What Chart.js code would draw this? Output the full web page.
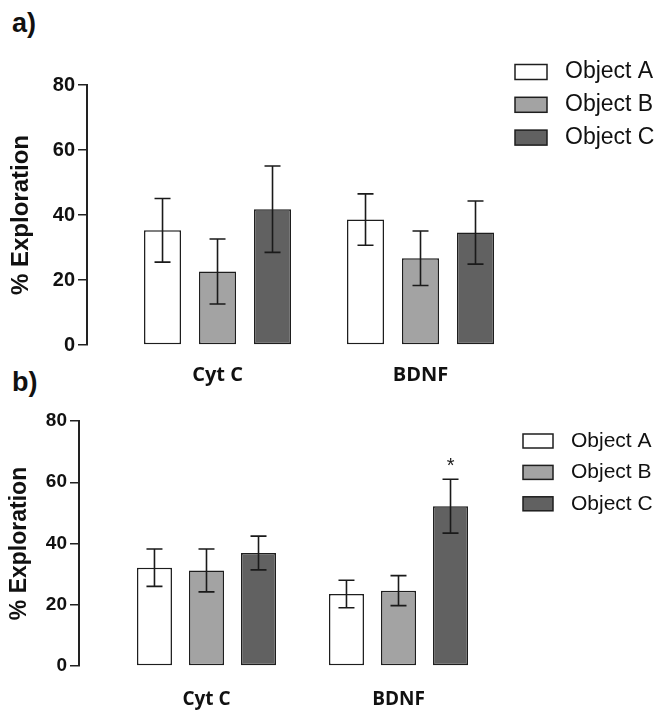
<!DOCTYPE html>
<html><head><meta charset="utf-8">
<script src="https://cdn.jsdelivr.net/npm/chart.js@4.4.1/dist/chart.umd.min.js"></script>
<style>
html,body{margin:0;padding:0;background:#fff;}
#wrap{position:relative;width:657px;height:710px;overflow:hidden;background:#fff;}
canvas{position:absolute;left:0;}
.lab{position:absolute;left:12px;font:bold 27px "Liberation Sans",Arial,sans-serif;line-height:27px;color:#111;}
</style></head><body>
<div id="wrap">
<div class="lab" style="top:10px">a)</div>
<div class="lab" style="top:369px">b)</div>
<canvas id="ca" width="657" height="395" style="top:0"></canvas>
<canvas id="cb" width="657" height="350" style="top:360px"></canvas>
</div>
<script>
const categories = ["Cyt C", "BDNF"];
const seriesNames = ["Object A", "Object B", "Object C"];
const yTicks = [0, 20, 40, 60, 80];
// panel a
const aObjectA = [35.3, 38.6];
const aObjectB = [22.6, 26.7];
const aObjectC = [41.8, 34.6];
const aErrA = [9.8, 7.9];
const aErrB = [10.0, 8.4];
const aErrC = [13.3, 9.7];
// panel b
const bObjectA = [32.1, 23.5];
const bObjectB = [31.2, 24.6];
const bObjectC = [36.9, 52.2];
const bErrA = [6.1, 4.5];
const bErrB = [7.0, 4.9];
const bErrC = [5.5, 8.8];
const bMarkA = ["", ""];
const bMarkB = ["", ""];
const bMarkC = ["", "*"];

const fills = ['#ffffff', '#a3a3a3', '#616161'];
const edge = '#1e1e1e';

const errorBars = {
  id: 'errorBars',
  afterDatasetsDraw(chart, args, o) {
    const ctx = chart.ctx, y = chart.scales.y;
    chart.data.datasets.forEach((ds, i) => {
      const meta = chart.getDatasetMeta(i);
      meta.data.forEach((bar, j) => {
        const v = ds.data[j].y, e = ds.errors[j];
        const x = bar.x, top = y.getPixelForValue(v + e), bot = y.getPixelForValue(v - e);
        ctx.save();
        ctx.strokeStyle = o.color; ctx.lineWidth = o.width;
        ctx.beginPath();
        ctx.moveTo(x, top); ctx.lineTo(x, bot);
        ctx.moveTo(x - o.cap, top); ctx.lineTo(x + o.cap, top);
        ctx.moveTo(x - o.cap, bot); ctx.lineTo(x + o.cap, bot);
        ctx.stroke();
        const m = ds.marks && ds.marks[j];
        if (m) {
          ctx.fillStyle = o.color; ctx.font = o.markFont;
          ctx.textAlign = 'center'; ctx.textBaseline = 'alphabetic';
          ctx.fillText(m, x, top - o.markGap);
        }
        ctx.restore();
      });
    });
  }
};

const sideLegend = {
  id: 'sideLegend',
  afterDraw(chart, args, o) {
    const ctx = chart.ctx;
    chart.data.datasets.forEach((ds, i) => {
      const cy = o.y + i * o.gap;
      ctx.save();
      ctx.fillStyle = ds.backgroundColor;
      ctx.fillRect(o.x, cy - o.boxH / 2, o.boxW, o.boxH);
      ctx.strokeStyle = ds.borderColor; ctx.lineWidth = o.lineWidth;
      ctx.strokeRect(o.x, cy - o.boxH / 2, o.boxW, o.boxH);
      ctx.fillStyle = o.color; ctx.font = o.font;
      ctx.textBaseline = 'middle'; ctx.textAlign = 'left';
      ctx.fillText(ds.label, o.textX, cy);
      ctx.restore();
    });
  }
};

function makePanel(id, series, errs, marks, c) {
  const datasets = series.map((vals, i) => ({
    label: seriesNames[i],
    data: vals.map((v, j) => ({ x: j, y: v })),
    errors: errs[i],
    marks: marks ? marks[i] : null,
    backgroundColor: fills[i],
    borderColor: edge,
    borderWidth: 1.5,
    borderSkipped: false,
    categoryPercentage: 0.8128,
    barPercentage: 0.673
  }));
  return new Chart(document.getElementById(id), {
    type: 'bar',
    data: { datasets },
    options: {
      responsive: false, animation: false, events: [],
      layout: { padding: { left: 0, right: c.padRight, top: c.padTop, bottom: 0 } },
      plugins: {
        legend: { display: false }, tooltip: { enabled: false },
        errorBars: { color: '#1a1a1a', width: 1.6, cap: 8, markFont: '20px "Liberation Sans", Arial, sans-serif', markGap: 7 },
        sideLegend: c.legend
      },
      scales: {
        x: {
          type: 'linear', min: c.xMin, max: c.xMax, offset: false,
          grid: { display: false, drawTicks: false }, border: { display: false },
          afterBuildTicks: ax => { ax.ticks = categories.map((_, i) => ({ value: i })); },
          ticks: { callback: v => categories[v], color: '#111', padding: c.xPad, maxRotation: 0, autoSkip: false,
                   font: { family: '"Open Sans", sans-serif', weight: 'bold', size: c.catSize } },
          afterFit: ax => { ax.height = c.xHeight; }
        },
        y: {
          min: 0, max: 80,
          afterBuildTicks: ax => { ax.ticks = yTicks.map(v => ({ value: v })); },
          ticks: { color: '#111', padding: 3, font: { family: '"Liberation Sans", Arial, sans-serif', weight: 'bold', size: c.tickSize } },
          grid: { drawOnChartArea: false, tickLength: 9, color: '#222', lineWidth: 1.5 },
          border: { color: '#222', width: 2 },
          title: { display: true, text: '% Exploration', color: '#111', padding: { top: c.titlePad, bottom: 0 },
                   font: { family: '"Liberation Sans", Arial, sans-serif', weight: 'bold', size: c.titleSize } },
          afterFit: ax => { ax.width = c.yWidth; }
        }
      }
    },
    plugins: [errorBars, sideLegend]
  });
}

makePanel('ca', [aObjectA, aObjectB, aObjectC], [aErrA, aErrB, aErrC], null, {
  padRight: 135, padTop: 85, xMin: -0.643, xMax: 1.5, xHeight: 50, xPad: 18, catSize: 20,
  yWidth: 87, tickSize: 20, titleSize: 24, titlePad: 7, 
  legend: { x: 515, y: 72, gap: 32.8, boxW: 32, boxH: 15, textX: 565, lineWidth: 1.5,
            color: '#111', font: '23px "Liberation Sans", Arial, sans-serif' }
});
makePanel('cb', [bObjectA, bObjectB, bObjectC], [bErrA, bErrB, bErrC], [bMarkA, bMarkB, bMarkC], {
  padRight: 162.5, padTop: 61, xMin: -0.664, xMax: 1.5, xHeight: 44, xPad: 22.6, catSize: 19,
  yWidth: 79, tickSize: 19, titleSize: 23, titlePad: 6,
  legend: { x: 523, y: 81, gap: 31.4, boxW: 30, boxH: 14, textX: 571, lineWidth: 1.5,
            color: '#111', font: '21px "Liberation Sans", Arial, sans-serif' }
});
</script>
</body></html>
